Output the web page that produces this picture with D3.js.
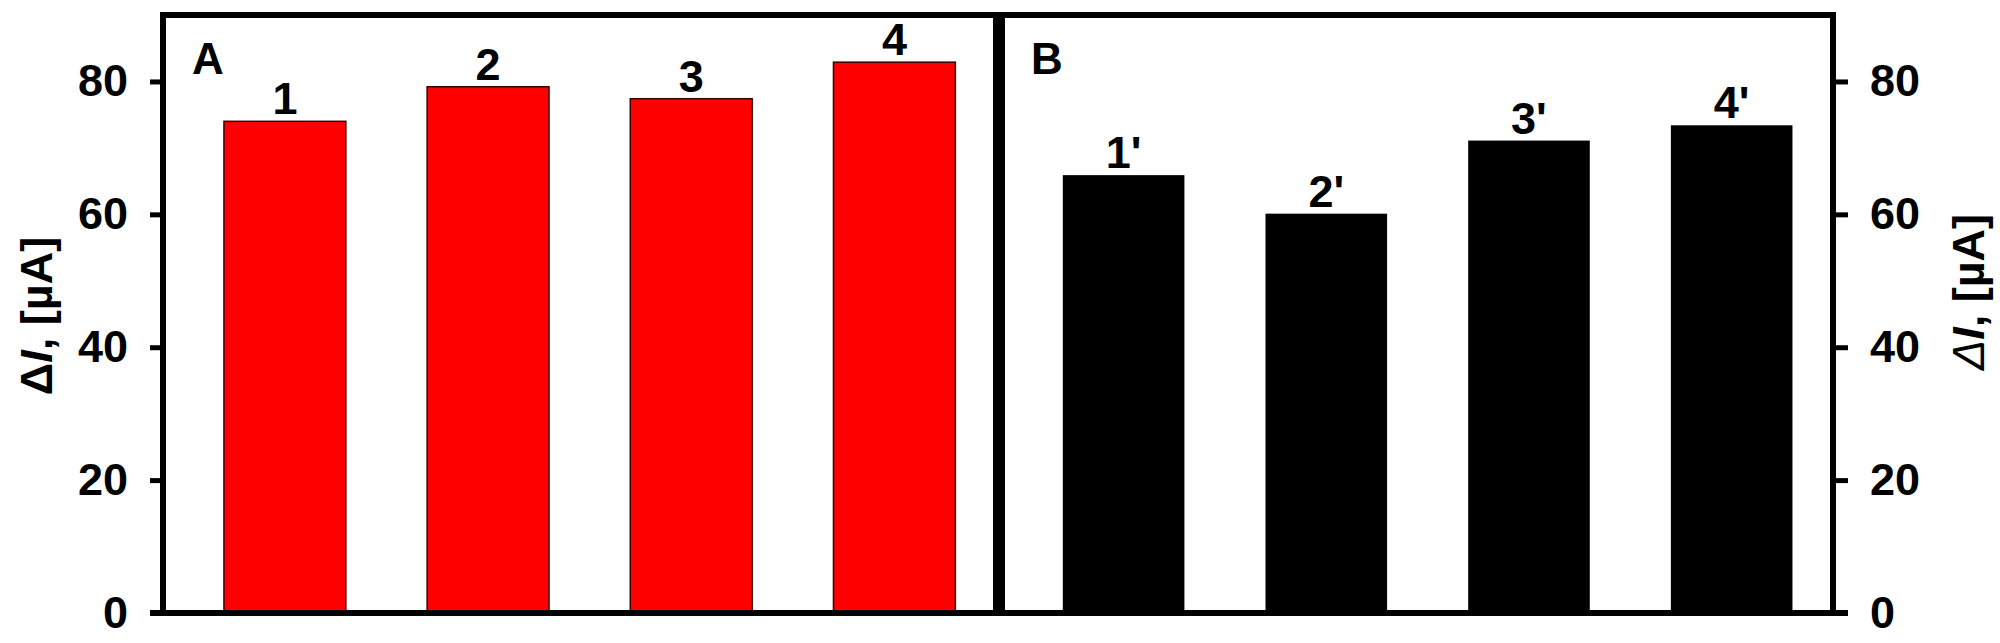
<!DOCTYPE html>
<html>
<head>
<meta charset="utf-8">
<script src="https://cdn.jsdelivr.net/npm/d3@7"></script>
<style>
  body { margin: 0; background: #fff; }
  text { font-family: "Liberation Sans", Arial, sans-serif; font-weight: bold; }
</style>
</head>
<body>
<svg id="chart" width="2000" height="643"></svg>
<script>
'use strict';

// values
const categoriesA = ['1', '2', '3', '4'];
const valuesA = [74.0, 79.2, 77.4, 82.9];
const categoriesB = ["1'", "2'", "3'", "4'"];
const valuesB = [65.9, 60.1, 71.1, 73.4];
const yTicks = [0, 20, 40, 60, 80];
const panelNames = ['A', 'B'];

const svg = d3.select('#chart');

const y = d3.scaleLinear().domain([0, 90]).range([613, 15]);
const xA = d3.scaleLinear().domain([0.4, 4.5]).range([163, 996]);
const xB = d3.scaleLinear().domain([0.4, 4.5]).range([1002, 1833]);
const barW = 0.6;

function drawPanel(x, cats, vals, fill, stroke, name) {
    const g = svg.append('g');

    g.selectAll('rect.bar')
        .data(vals)
        .enter()
        .append('rect')
        .attr('class', 'bar')
        .attr('x', function(d, i) {return x(i + 1 - barW / 2);})
        .attr('width', x(barW) - x(0))
        .attr('y', function(d) {return y(d);})
        .attr('height', function(d) {return y(0) - y(d);})
        .style('fill', fill)
        .style('stroke', stroke)
        .style('stroke-width', stroke === 'none' ? 0 : 1.5);

    g.selectAll('text.lab')
        .data(vals)
        .enter()
        .append('text')
        .attr('class', 'lab')
        .attr('x', function(d, i) {return x(i + 1);})
        .attr('y', function(d) {return y(d) - 7;})
        .attr('text-anchor', 'middle')
        .style('font-size', '45px')
        .text(function(d, i) {return cats[i];});

    // frame
    g.append('rect')
        .attr('x', x.range()[0])
        .attr('y', y(90))
        .attr('width', x.range()[1] - x.range()[0])
        .attr('height', y(0) - y(90))
        .style('fill', 'none')
        .style('stroke', '#000')
        .style('stroke-width', 6);

    g.append('text')
        .attr('x', x.range()[0] + 29)
        .attr('y', 74)
        .style('font-size', '44px')
        .text(name);
}

drawPanel(xA, categoriesA, valuesA, '#ff0000', '#3a0000', panelNames[0]);
drawPanel(xB, categoriesB, valuesB, '#000000', 'none', panelNames[1]);

// axes
const left = svg.append('g')
    .attr('transform', 'translate(163,0)')
    .call(d3.axisLeft(y).tickValues(yTicks).tickSize(13).tickPadding(22));
const right = svg.append('g')
    .attr('transform', 'translate(1833,0)')
    .call(d3.axisRight(y).tickValues(yTicks).tickSize(15).tickPadding(22));

[left, right].forEach(function(a) {
    a.select('.domain').remove();
    a.selectAll('.tick line').style('stroke', '#000').style('stroke-width', 5);
    a.selectAll('.tick text')
        .style('font-size', '45px')
        .style('font-family', '"Liberation Sans", Arial, sans-serif')
        .style('font-weight', 'bold')
        .style('fill', '#000');
});

// bottom line joining the zero ticks
svg.append('line')
    .attr('x1', 150).attr('x2', 1848)
    .attr('y1', y(0)).attr('y2', y(0))
    .style('stroke', '#000')
    .style('stroke-width', 6);

// y titles
function yTitle(cx, cy, thinDelta) {
    const t = svg.append('text')
        .attr('transform', 'translate(' + cx + ',' + cy + ') rotate(-90)')
        .attr('text-anchor', 'middle')
        .style('font-size', '45px');
    t.append('tspan')
        .style('font-weight', thinDelta ? 'normal' : 'bold')
        .style('font-style', thinDelta ? 'italic' : 'normal')
        .text('\u0394');
    t.append('tspan').style('font-style', 'italic').text('I');
    t.append('tspan').text(', [\u00b5A]');
}
yTitle(52, 316, false);
yTitle(1984, 292, true);
</script>
</body>
</html>
